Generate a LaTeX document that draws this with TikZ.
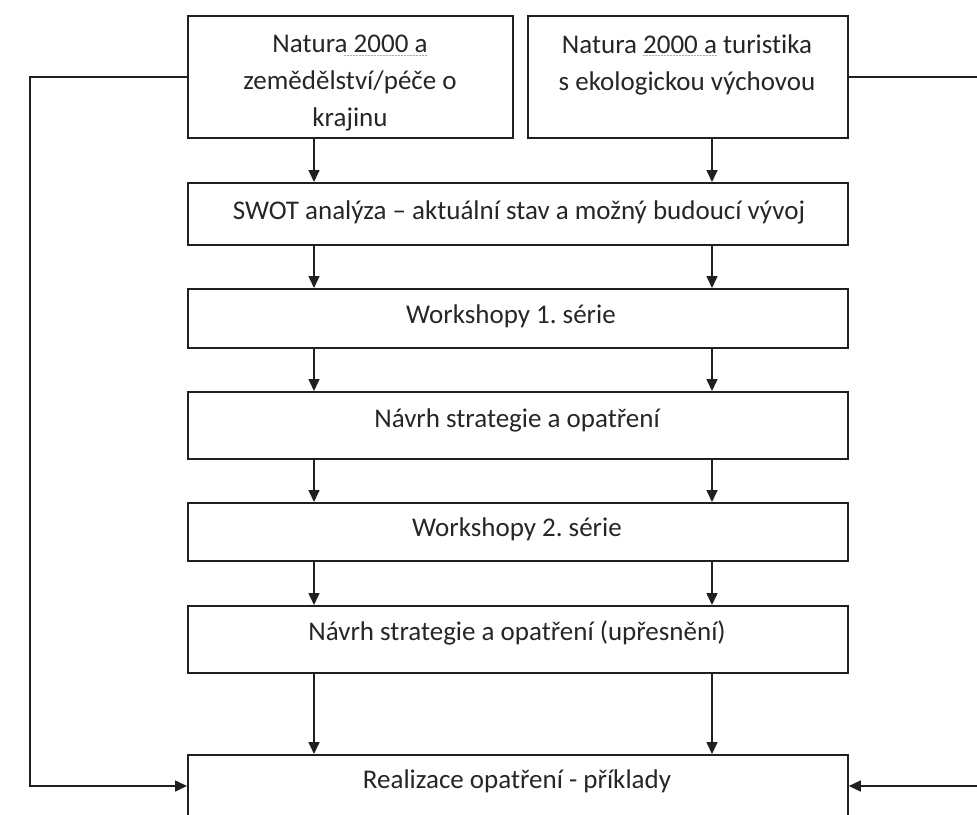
\documentclass[tikz,border=0pt]{standalone}
\usepackage{fontspec}
\setmainfont{Carlito}[Ligatures=NoCommon]
\usetikzlibrary{arrows.meta,calc}
\definecolor{ln}{HTML}{202020}
\definecolor{tx}{HTML}{262626}
\definecolor{spell}{HTML}{D48ED4}
\frenchspacing
\begin{document}
\begin{tikzpicture}[x=1pt,y=-1pt,
  box/.style={draw=ln,line width=1.8pt,rectangle,inner sep=0pt,anchor=north west},
  txt/.style={text=tx,font=\fontsize{27}{37}\selectfont,inner sep=0pt,align=center},
  arr/.style={draw=ln,line width=1.6pt,-{Triangle[width=11pt,length=12pt]}},
  spellline/.style={draw=spell,line width=0.9pt,dash pattern=on 1.5pt off 1.5pt}]
\useasboundingbox (0,0) rectangle (977,814);
% boxes
\node[box,minimum width=325pt,minimum height=122pt] (A) at (187,15) {};
\node[box,minimum width=320pt,minimum height=122pt] (B) at (527,15) {};
\node[box,minimum width=660pt,minimum height=62pt] (S) at (187,182) {};
\node[box,minimum width=660pt,minimum height=59pt] (W1) at (187,288) {};
\node[box,minimum width=660pt,minimum height=67pt] (N1) at (187,391) {};
\node[box,minimum width=660pt,minimum height=58pt] (W2) at (187,502) {};
\node[box,minimum width=660pt,minimum height=67pt] (N2) at (187,605) {};
\node[box,minimum width=660pt,minimum height=80pt] (R) at (187,754) {};
% texts
\node[txt] (tA) at (350,83) {Natura 2000 a\\zemědělství/péče o\\krajinu};
\node[txt] (tB) at (687,64.5) {Natura 2000 a turistika\\s ekologickou výchovou};
\node[txt] (tS) at (519,212) {SWOT analýza – aktuální stav a možný budoucí vývoj};
\node[txt] (tW1) at (511,316) {Workshopy 1. série};
\node[txt] (tN1) at (517,420) {Návrh strategie a opatření};
\node[txt] (tW2) at (517,529) {Workshopy 2. série};
\node[txt] (tN2) at (517,633) {Návrh strategie a opatření (upřesnění)};
\node[txt] (tR) at (517,781) {Realizace opatření - příklady};
% spell-check underlines
\draw[spellline] (344,55) -- (427,55);
\draw[spellline] (643,55) -- (717,55);
% columns
\coordinate (xl) at (314,0);
\coordinate (xr) at (712,0);
\coordinate (yt) at (0,77);
\coordinate (yb) at (0,786);
\coordinate (cl) at (30,0);
\coordinate (cr) at (990,0);
% vertical arrows
\draw[arr] (A.south -| xl) -- (S.north -| xl);
\draw[arr] (B.south -| xr) -- (S.north -| xr);
\foreach \p/\q in {S/W1,W1/N1,N1/W2,W2/N2,N2/R}{
  \draw[arr] (\p.south -| xl) -- (\q.north -| xl);
  \draw[arr] (\p.south -| xr) -- (\q.north -| xr);
}
% feedback lines
\draw[arr] (A.west |- yt) -- (cl |- yt) -- (cl |- yb) -- (R.west |- yb);
\draw[arr] (B.east |- yt) -- (cr |- yt) -- (cr |- yb) -- (R.east |- yb);
\end{tikzpicture}
\end{document}
